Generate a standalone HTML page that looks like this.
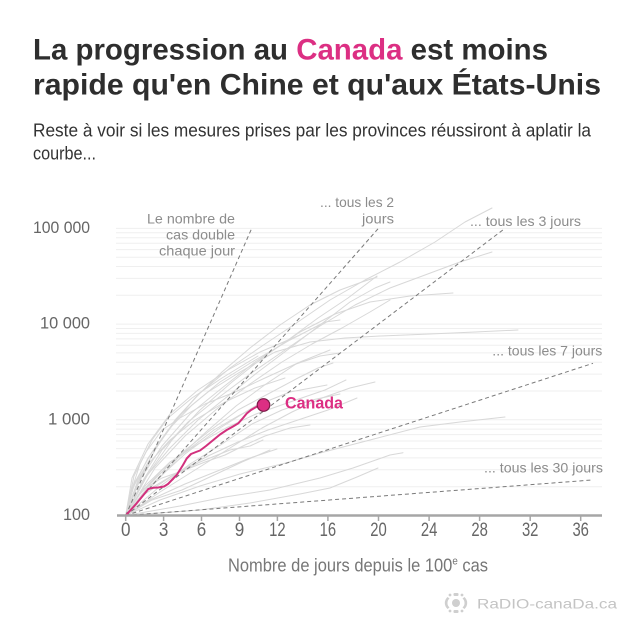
<!DOCTYPE html>
<html><head><meta charset="utf-8"><style>
html,body{margin:0;padding:0;background:#fff;}
svg{display:block;}
text{font-family:"Liberation Sans",sans-serif;}
</style></head><body>
<svg width="635" height="635" viewBox="0 0 635 635" xmlns="http://www.w3.org/2000/svg">
<rect width="635" height="635" fill="#fff"/>
<!-- Title -->
<text x="33" y="59.5" font-size="30" font-weight="bold" fill="#2e2e2e" textLength="515" lengthAdjust="spacingAndGlyphs">La progression au <tspan fill="#dc2f83">Canada</tspan> est moins</text>
<text x="33" y="94.5" font-size="30" font-weight="bold" fill="#2e2e2e" textLength="568" lengthAdjust="spacingAndGlyphs">rapide qu'en Chine et qu'aux États-Unis</text>
<text x="33" y="136.7" font-size="18.5" fill="#333" textLength="558" lengthAdjust="spacingAndGlyphs">Reste à voir si les mesures prises par les provinces réussiront à aplatir la</text>
<text x="33" y="159.5" font-size="18.5" fill="#333" textLength="63" lengthAdjust="spacingAndGlyphs">courbe...</text>

<!-- gridlines -->
<g stroke="#efefef" stroke-width="1">
<line x1="116" x2="602" y1="486.7" y2="486.7"/><line x1="116" x2="602" y1="469.8" y2="469.8"/><line x1="116" x2="602" y1="457.9" y2="457.9"/><line x1="116" x2="602" y1="448.6" y2="448.6"/><line x1="116" x2="602" y1="441.0" y2="441.0"/><line x1="116" x2="602" y1="434.6" y2="434.6"/><line x1="116" x2="602" y1="429.1" y2="429.1"/><line x1="116" x2="602" y1="424.2" y2="424.2"/><line x1="116" x2="602" y1="419.8" y2="419.8"/>
<line x1="116" x2="602" y1="391.0" y2="391.0"/><line x1="116" x2="602" y1="374.1" y2="374.1"/><line x1="116" x2="602" y1="362.2" y2="362.2"/><line x1="116" x2="602" y1="352.9" y2="352.9"/><line x1="116" x2="602" y1="345.3" y2="345.3"/><line x1="116" x2="602" y1="338.9" y2="338.9"/><line x1="116" x2="602" y1="333.4" y2="333.4"/><line x1="116" x2="602" y1="328.5" y2="328.5"/><line x1="116" x2="602" y1="324.1" y2="324.1"/>
<line x1="116" x2="602" y1="295.3" y2="295.3"/><line x1="116" x2="602" y1="278.4" y2="278.4"/><line x1="116" x2="602" y1="266.5" y2="266.5"/><line x1="116" x2="602" y1="257.2" y2="257.2"/><line x1="116" x2="602" y1="249.6" y2="249.6"/><line x1="116" x2="602" y1="243.2" y2="243.2"/><line x1="116" x2="602" y1="237.7" y2="237.7"/><line x1="116" x2="602" y1="232.8" y2="232.8"/><line x1="116" x2="602" y1="228.4" y2="228.4"/>
</g>

<!-- y labels -->
<g font-size="17" fill="#666" text-anchor="end">
<text x="90" y="520" textLength="27" lengthAdjust="spacingAndGlyphs">100</text>
<text x="90" y="424.3" textLength="42" lengthAdjust="spacingAndGlyphs">1 000</text>
<text x="90" y="328.6" textLength="50" lengthAdjust="spacingAndGlyphs">10 000</text>
<text x="90" y="232.9" textLength="57" lengthAdjust="spacingAndGlyphs">100 000</text>
</g>

<!-- gray country lines -->
<g fill="none" stroke="#d8d8d8" stroke-width="1" stroke-linejoin="round" stroke-linecap="round">
<polyline points="125.7,515.5 140,478 155,450 175,420 200,393 230,368 262,346 295,324 330,300 365,280 400,262 435,242 465,222 492,208"/>
<polyline points="125.7,515.5 142,482 162,450 188,422 218,398 250,374 285,350 320,326 355,305 390,288 425,275 460,262 492,252"/>
<polyline points="125.7,515.5 148,474 172,440 200,410 232,382 265,356 300,332 335,314 370,302 410,296 453,293"/>
<polyline points="125.7,515.5 138,480 158,445 180,415 208,392 240,372 275,352 310,342 345,338 380,336 430,334 475,332 518,330"/>
<polyline points="125.7,515.5 135,482 152,452 172,425 195,398 222,372 250,348 280,325 310,305 340,290 362,282 377,277"/>
<polyline points="125.7,515.5 145,478 170,448 198,420 228,396 258,372 290,348 320,325 350,302 375,288 390,282"/>
<polyline points="125.7,515.5 133,488 148,458 168,430 192,405 220,382 252,362 290,340 325,322 340,320"/>
<polyline points="125.7,515.5 150,488 178,458 206,432 236,406 266,384 296,364 320,356 340,353"/>
<polyline points="125.7,515.5 152,484 185,454 220,428 255,406 290,392 327,385"/>
<polyline points="125.7,515.5 145,494 172,476 200,462 230,450 250,446 263,440"/>
<polyline points="125.7,515.5 150,500 185,484 220,470 250,458 277,449"/>
<polyline points="125.7,515.5 160,500 200,486 240,474 286,463 320,453 370,440 420,427 460,422 505,417"/>
<polyline points="125.7,515.5 180,506 225,497 270,490 320,478 353,468 390,455 403,452.7"/>
<polyline points="125.7,515.5 200,510 250,503 300,494 330,488 357,477 378,468"/>
<polyline points="125.7,515.5 140,480 162,446 190,414 222,388 255,362 288,340 318,318 348,298 377,276"/>
<polyline points="125.7,515.5 155,468 185,436 218,408 250,384 282,362 312,344 342,328 370,312 390,300"/>
<polyline points="125.7,515.5 150,484 178,456 208,432 238,410 268,394 298,378 318,368 333,363"/>
<polyline points="125.7,515.5 132,478 148,444 170,414 198,390 228,370 260,352 300,335"/>
<polyline points="125.7,515.5 158,488 190,464 222,444 252,424 282,410 312,400 340,394"/>
<polyline points="125.7,515.5 140,494 162,470 188,450 214,430 238,416 260,405"/>
<polyline points="125.7,515.5 152,500 182,490 212,476 242,462 270,450"/>
<polyline points="125.7,515.5 131,492 140,464 152,440 168,418 192,398 222,378 258,356"/>
<polyline points="125.7,515.5 148,490 178,472 208,456 238,442 268,430 298,420 328,410 357,398"/>
<polyline points="125.7,515.5 145,486 170,462 198,444 226,428 256,414 290,402 325,390 346,380"/>
<polyline points="125.7,515.5 136,486 150,462 170,440 195,420 225,402 255,388 285,378"/>
<polyline points="125.7,515.5 134,476 146,452 162,430 180,418 205,404 235,392 265,378 300,362 330,350"/>
<polyline points="125.7,515.5 142,490 162,478 185,470 205,462 225,455 245,445 265,436 290,428 310,425"/>
<polyline points="125.7,515.5 160,492 195,470 230,448 262,428 292,412 322,398 350,388 375,382"/>
</g>

<!-- doubling reference lines -->
<g stroke="#7a7a7a" stroke-width="1" stroke-dasharray="4,3" fill="none">
<line x1="125.7" y1="515.5" x2="251.7" y2="228.4"/>
<line x1="125.7" y1="515.5" x2="378" y2="228.8"/>
<line x1="125.7" y1="515.5" x2="503.5" y2="229.5"/>
<line x1="125.7" y1="515.5" x2="593" y2="363.3"/>
<line x1="125.7" y1="515.5" x2="592" y2="480"/>
</g>

<!-- annotations -->
<g font-size="14" fill="#8c8c8c">
<text x="235" y="223.3" text-anchor="end" textLength="88" lengthAdjust="spacingAndGlyphs">Le nombre de</text>
<text x="235" y="239.3" text-anchor="end" textLength="69" lengthAdjust="spacingAndGlyphs">cas double</text>
<text x="235" y="255.3" text-anchor="end" textLength="76" lengthAdjust="spacingAndGlyphs">chaque jour</text>
<text x="394" y="207" text-anchor="end" textLength="74" lengthAdjust="spacingAndGlyphs">... tous les 2</text>
<text x="394" y="223.3" text-anchor="end" textLength="32" lengthAdjust="spacingAndGlyphs">jours</text>
<text x="470" y="226" textLength="111" lengthAdjust="spacingAndGlyphs">... tous les 3 jours</text>
<text x="492.3" y="355.7" textLength="110" lengthAdjust="spacingAndGlyphs">... tous les 7 jours</text>
<text x="484" y="472.7" textLength="119" lengthAdjust="spacingAndGlyphs">... tous les 30 jours</text>
</g>

<!-- Canada -->
<polyline fill="none" stroke="#d2307d" stroke-width="2" stroke-linejoin="round" stroke-linecap="round" points="125.7,515.5 136.7,503.3 148.3,489 153,487.8 158.3,487.5 164,486.5 168,484 176.7,475 183,465 186.7,458.5 191,454 196,452 200,450.5 206,446 213.3,440 220,434.5 226.7,430 233,426.5 238.3,423.3 243,418 246.7,413.5 251,410 256.7,406.7 263.5,405"/>
<circle cx="263.5" cy="405" r="6.3" fill="#dc2f83" stroke="#7c1a48" stroke-width="1.2"/>
<text x="285" y="408.3" font-size="17" font-weight="bold" fill="#dc2f83" textLength="58" lengthAdjust="spacingAndGlyphs">Canada</text>

<!-- x axis -->
<line x1="117" y1="515.5" x2="602" y2="515.5" stroke="#a6a6a6" stroke-width="2.5"/>
<g stroke="#a6a6a6" stroke-width="1.5">
<line x1="125.7" x2="125.7" y1="515.5" y2="521"/><line x1="163.6" x2="163.6" y1="515.5" y2="521"/><line x1="201.5" x2="201.5" y1="515.5" y2="521"/><line x1="239.5" x2="239.5" y1="515.5" y2="521"/><line x1="277.4" x2="277.4" y1="515.5" y2="521"/><line x1="327.9" x2="327.9" y1="515.5" y2="521"/><line x1="378.5" x2="378.5" y1="515.5" y2="521"/><line x1="429.1" x2="429.1" y1="515.5" y2="521"/><line x1="479.6" x2="479.6" y1="515.5" y2="521"/><line x1="530.2" x2="530.2" y1="515.5" y2="521"/><line x1="580.7" x2="580.7" y1="515.5" y2="521"/>
</g>
<g font-size="19.5" fill="#666" text-anchor="middle">
<text x="125.7" y="536" textLength="9.5" lengthAdjust="spacingAndGlyphs">0</text>
<text x="163.6" y="536" textLength="9.5" lengthAdjust="spacingAndGlyphs">3</text>
<text x="201.5" y="536" textLength="9.5" lengthAdjust="spacingAndGlyphs">6</text>
<text x="239.5" y="536" textLength="9.5" lengthAdjust="spacingAndGlyphs">9</text>
<text x="277.4" y="536" textLength="16.5" lengthAdjust="spacingAndGlyphs">12</text>
<text x="327.9" y="536" textLength="16.5" lengthAdjust="spacingAndGlyphs">16</text>
<text x="378.5" y="536" textLength="16.5" lengthAdjust="spacingAndGlyphs">20</text>
<text x="429.1" y="536" textLength="16.5" lengthAdjust="spacingAndGlyphs">24</text>
<text x="479.6" y="536" textLength="16.5" lengthAdjust="spacingAndGlyphs">28</text>
<text x="530.2" y="536" textLength="16.5" lengthAdjust="spacingAndGlyphs">32</text>
<text x="580.7" y="536" textLength="16.5" lengthAdjust="spacingAndGlyphs">36</text>
</g>
<text x="228" y="571.5" font-size="18.5" fill="#777" textLength="260" lengthAdjust="spacingAndGlyphs">Nombre de jours depuis le 100<tspan font-size="11" dy="-7">e</tspan><tspan dy="7"> cas</tspan></text>

<!-- logo -->
<g fill="#cfcfcf">
<circle cx="456" cy="603" r="4"/>
<path d="M447.5,597 A8,8 0 0 0 447.5,609 L449.5,607.5 A6,6 0 0 1 449.5,598.5 Z"/>
<path d="M464.5,597 A8,8 0 0 1 464.5,609 L462.5,607.5 A6,6 0 0 0 462.5,598.5 Z"/>
<rect x="453.5" y="593" width="5" height="3" rx="1"/>
<rect x="453.5" y="610" width="5" height="3" rx="1"/>
<circle cx="450" cy="595" r="1.4"/><circle cx="462" cy="595" r="1.4"/>
<circle cx="450" cy="611" r="1.4"/><circle cx="462" cy="611" r="1.4"/>
</g>
<text x="477" y="608.3" font-size="14" fill="#c4c4c4" textLength="140" lengthAdjust="spacingAndGlyphs">RaDIO-canaDa.ca</text>
</svg>
</body></html>
